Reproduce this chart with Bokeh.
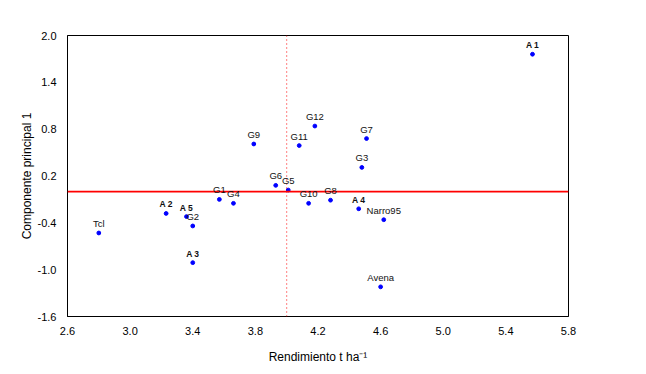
from bokeh.plotting import figure
from bokeh.models import ColumnDataSource, LabelSet, Span, FixedTicker, NumeralTickFormatter
from bokeh.core.properties import value
from bokeh.embed import file_html
from bokeh.resources import INLINE

names = ["A 1", "G12", "G7", "G9", "G11", "G3", "G6", "G5", "G1", "G4", "G10", "G8",
         "A 4", "Narro95", "A 2", "A 5", "G2", "Tcl", "A 3", "Avena"]
rend = [5.57, 4.18, 4.51, 3.79, 4.08, 4.48, 3.93, 4.01, 3.57, 3.66, 4.14, 4.28,
        4.46, 4.62, 3.23, 3.36, 3.40, 2.80, 3.40, 4.60]
cp1 = [1.76, 0.84, 0.68, 0.61, 0.59, 0.31, 0.08, 0.02, -0.10, -0.15, -0.15, -0.11,
       -0.22, -0.36, -0.28, -0.32, -0.44, -0.53, -0.91, -1.22]
x_ticks = [2.6, 3.0, 3.4, 3.8, 4.2, 4.6, 5.0, 5.4, 5.8]
y_ticks = [-1.6, -1.0, -0.4, 0.2, 0.8, 1.4, 2.0]
x_ref = 4.0
y_ref = 0.0

bold = [n.startswith("A ") for n in names]
src_n = ColumnDataSource(dict(x=[a for a, b in zip(rend, bold) if not b],
                              y=[a for a, b in zip(cp1, bold) if not b],
                              t=[a for a, b in zip(names, bold) if not b]))
src_b = ColumnDataSource(dict(x=[a for a, b in zip(rend, bold) if b],
                              y=[a for a, b in zip(cp1, bold) if b],
                              t=[a for a, b in zip(names, bold) if b]))

p = figure(width=630, height=366, x_range=(2.6, 5.8), y_range=(-1.6, 2.0),
           output_backend="svg", toolbar_location=None,
           min_border_left=67, min_border_right=62, min_border_top=35, min_border_bottom=48)
p.background_fill_color = "white"
p.border_fill_color = "white"
p.outline_line_color = "black"
p.outline_line_width = 1
p.xgrid.visible = False
p.ygrid.visible = False

for ax in (p.xaxis[0], p.yaxis[0]):
    ax.axis_line_color = "black"
    ax.major_tick_line_color = None
    ax.minor_tick_line_color = None
    ax.major_label_text_font = "Liberation Sans"
    ax.major_label_text_font_size = "11px"
    ax.major_label_text_color = "black"
    ax.axis_label_text_font = "Liberation Sans"
    ax.axis_label_text_font_size = "12px"
    ax.axis_label_text_font_style = "normal"
    ax.axis_label_text_color = "black"
    ax.formatter = NumeralTickFormatter(format="0.0")

p.xaxis.ticker = FixedTicker(ticks=x_ticks)
p.yaxis.ticker = FixedTicker(ticks=y_ticks)
p.xaxis.axis_label = "Rendimiento t ha\u207b\u00b9"
p.yaxis.axis_label = "Componente principal 1"
p.xaxis.major_label_standoff = 4
p.yaxis.major_label_standoff = 5
p.xaxis.axis_label_standoff = 12
p.yaxis.axis_label_standoff = 1

p.add_layout(Span(location=y_ref, dimension="width", line_color="#ff0000", line_width=1.6))
p.add_layout(Span(location=x_ref, dimension="height", line_color="#ff0000", line_width=1,
                  line_dash="1 3"))

p.scatter("x", "y", source=src_n, size=3.8, color="#0000ff", marker="circle")
p.scatter("x", "y", source=src_b, size=3.8, color="#0000ff", marker="circle")

p.add_layout(LabelSet(x="x", y="y", text="t", source=src_n, y_offset=4, text_align="center",
                      text_baseline="bottom", text_font=value("Liberation Sans"),
                      text_font_size="9.5px", text_color="#111111"))
p.add_layout(LabelSet(x="x", y="y", text="t", source=src_b, y_offset=4, text_align="center",
                      text_baseline="bottom", text_font=value("Liberation Sans"),
                      text_font_size="8.5px", text_font_style="bold", text_color="#111111"))

open("out.html", "w").write(file_html(p, INLINE))
